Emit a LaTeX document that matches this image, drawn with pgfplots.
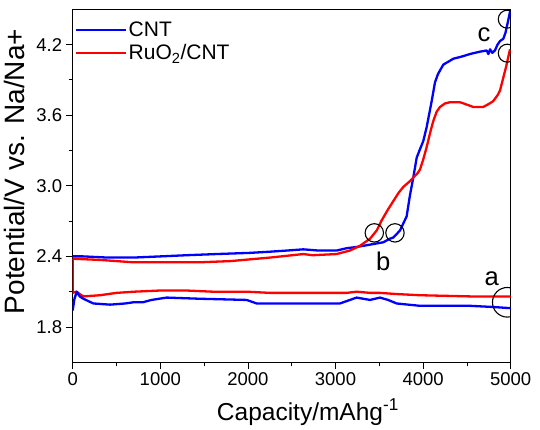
\documentclass[border=0pt]{standalone}
\usepackage{fontspec}
\setmainfont{Liberation Sans}
\usepackage{pgfplots}
\pgfplotsset{compat=1.18}
\begin{document}
\begin{tikzpicture}
\begin{axis}[
 scale only axis, width=438pt, height=353pt,
 xmin=0, xmax=5000, ymin=1.5, ymax=4.5,
 xtick={0,1000,2000,3000,4000,5000},
 ytick={1.8,2.4,3.0,3.6,4.2},
 minor x tick num=1, minor y tick num=1,
 tick align=outside, xtick pos=bottom, ytick pos=left,
 major tick length=7pt, minor tick length=4pt,
 axis line style={line width=0.8pt},
 every tick/.style={line width=0.8pt, black},
 /pgf/number format/assume math mode=true,
 ticklabel style={font=\fontsize{18.5}{22}\selectfont},
 x tick label style={/pgf/number format/1000 sep={}},
 y tick label style={/pgf/number format/.cd, fixed, fixed zerofill, precision=1},
 xlabel={Capacity/mAhg\textsuperscript{-1}},
 ylabel={Potential/V vs. Na/Na+},
 xlabel style={font=\fontsize{24.5}{28}\selectfont, at={(axis description cs:0.537,-0.1635)}, anchor=base},
 ylabel style={font=\fontsize{28}{32}\selectfont, at={(axis description cs:-0.1089,0.5405)}, anchor=base, rotate=0},
 legend style={at={(axis description cs:0,1)}, anchor=north west, draw=none, fill=none,
   font=\fontsize{21}{24}\selectfont, row sep=2.6pt, inner xsep=1.5pt, inner ysep=0pt, yshift=-10.5pt},
 legend cell align=left,
 legend image code/.code={\draw[#1] (0pt,0pt) -- (50pt,0pt);},
 every axis plot/.append style={line width=2.3pt, line join=round},
]
% CNT charge (upper)
\addplot[blue] coordinates {
(0,2.40) (120,2.40) (400,2.39) (692,2.39) (1000,2.40) (1300,2.41) (1643,2.42) (2024,2.43) (2252,2.44)
(2450,2.45) (2633,2.46) (2800,2.45) (3013,2.45) (3130,2.47) (3241,2.48) (3394,2.50) (3546,2.52)
(3620,2.55) (3660,2.56) (3736,2.62) (3774,2.68) (3812,2.74) (3850,2.92) (3888,3.07) (3927,3.24)
(3964,3.31) (4002,3.38) (4041,3.50) (4080,3.65) (4098,3.72) (4136,3.88) (4170,3.95) (4193,3.98)
(4231,4.03) (4300,4.06) (4345,4.08) (4450,4.10) (4535,4.12) (4650,4.14) (4726,4.15) (4745,4.12)
(4765,4.16) (4790,4.13) (4820,4.15) (4850,4.20) (4878,4.23) (4916,4.25) (4940,4.30) (4970,4.40) (4995,4.49)
};
\addlegendentry{CNT}
% RuO2/CNT charge (upper)
\addplot[red] coordinates {
(0,2.38) (312,2.37) (692,2.35) (1073,2.35) (1453,2.35) (1800,2.36) (2252,2.39) (2633,2.42) (2740,2.41)
(3013,2.42) (3165,2.45) (3279,2.49) (3394,2.55) (3470,2.62) (3530,2.71) (3600,2.80) (3660,2.87)
(3720,2.94) (3774,2.99) (3850,3.04) (3888,3.07) (3940,3.11) (3965,3.14) (4000,3.22) (4041,3.33)
(4080,3.45) (4116,3.55) (4155,3.63) (4193,3.67) (4250,3.70) (4307,3.71) (4421,3.71) (4500,3.69)
(4573,3.67) (4687,3.67) (4760,3.70) (4801,3.72) (4850,3.77) (4878,3.81) (4916,3.92) (4950,4.02) (4992,4.16)
};
\addlegendentry{RuO\textsubscript{2}/CNT}
% RuO2/CNT discharge (lower)
\addplot[red, forget plot] coordinates {
(0,2.38) (0,2.09) (40,2.10) (122,2.06) (312,2.07) (500,2.09) (700,2.10) (997,2.11) (1300,2.11)
(1600,2.10) (1986,2.10) (2252,2.09) (2800,2.09) (3127,2.09) (3241,2.10) (3394,2.09) (3508,2.09)
(3698,2.08) (3964,2.07) (4535,2.06) (5000,2.06)
};
% CNT discharge (lower)
\addplot[blue, forget plot] coordinates {
(0,1.94) (20,2.04) (47,2.10) (80,2.06) (122,2.04) (236,2.00) (426,1.99) (600,2.00) (692,2.01)
(800,2.01) (900,2.03) (1073,2.05) (1453,2.04) (1986,2.03) (2100,2.00) (2400,2.00) (2800,2.00)
(3050,2.00) (3127,2.02) (3241,2.05) (3394,2.03) (3508,2.05) (3600,2.03) (3698,2.00) (3964,1.98)
(4535,1.98) (4800,1.97) (5000,1.96)
};
% annotations
\draw[line width=1.1pt] (axis cs:4961,2.01) circle[radius=14.8pt];
\draw[line width=1.1pt] (axis cs:3443,2.60) circle[radius=9.2pt];
\draw[line width=1.1pt] (axis cs:3679,2.60) circle[radius=9.2pt];
\draw[line width=1.1pt] (axis cs:4961,4.416) circle[radius=9pt];
\draw[line width=1.1pt] (axis cs:4961,4.127) circle[radius=9pt];
\node[font=\fontsize{25.6}{30}\selectfont, inner sep=0pt] at (axis cs:4783,2.21) {a};
\node[font=\fontsize{25.6}{30}\selectfont, inner sep=0pt] at (axis cs:3546,2.36) {b};
\node[font=\fontsize{25.6}{30}\selectfont, inner sep=0pt] at (axis cs:4695,4.28) {c};
\end{axis}
\pgfresetboundingbox
\path[use as bounding box] ([shift={(-72.7pt,-67.7pt)}]current axis.south west) rectangle ([shift={(29.3pt,9.3pt)}]current axis.north east);
\end{tikzpicture}
\end{document}
